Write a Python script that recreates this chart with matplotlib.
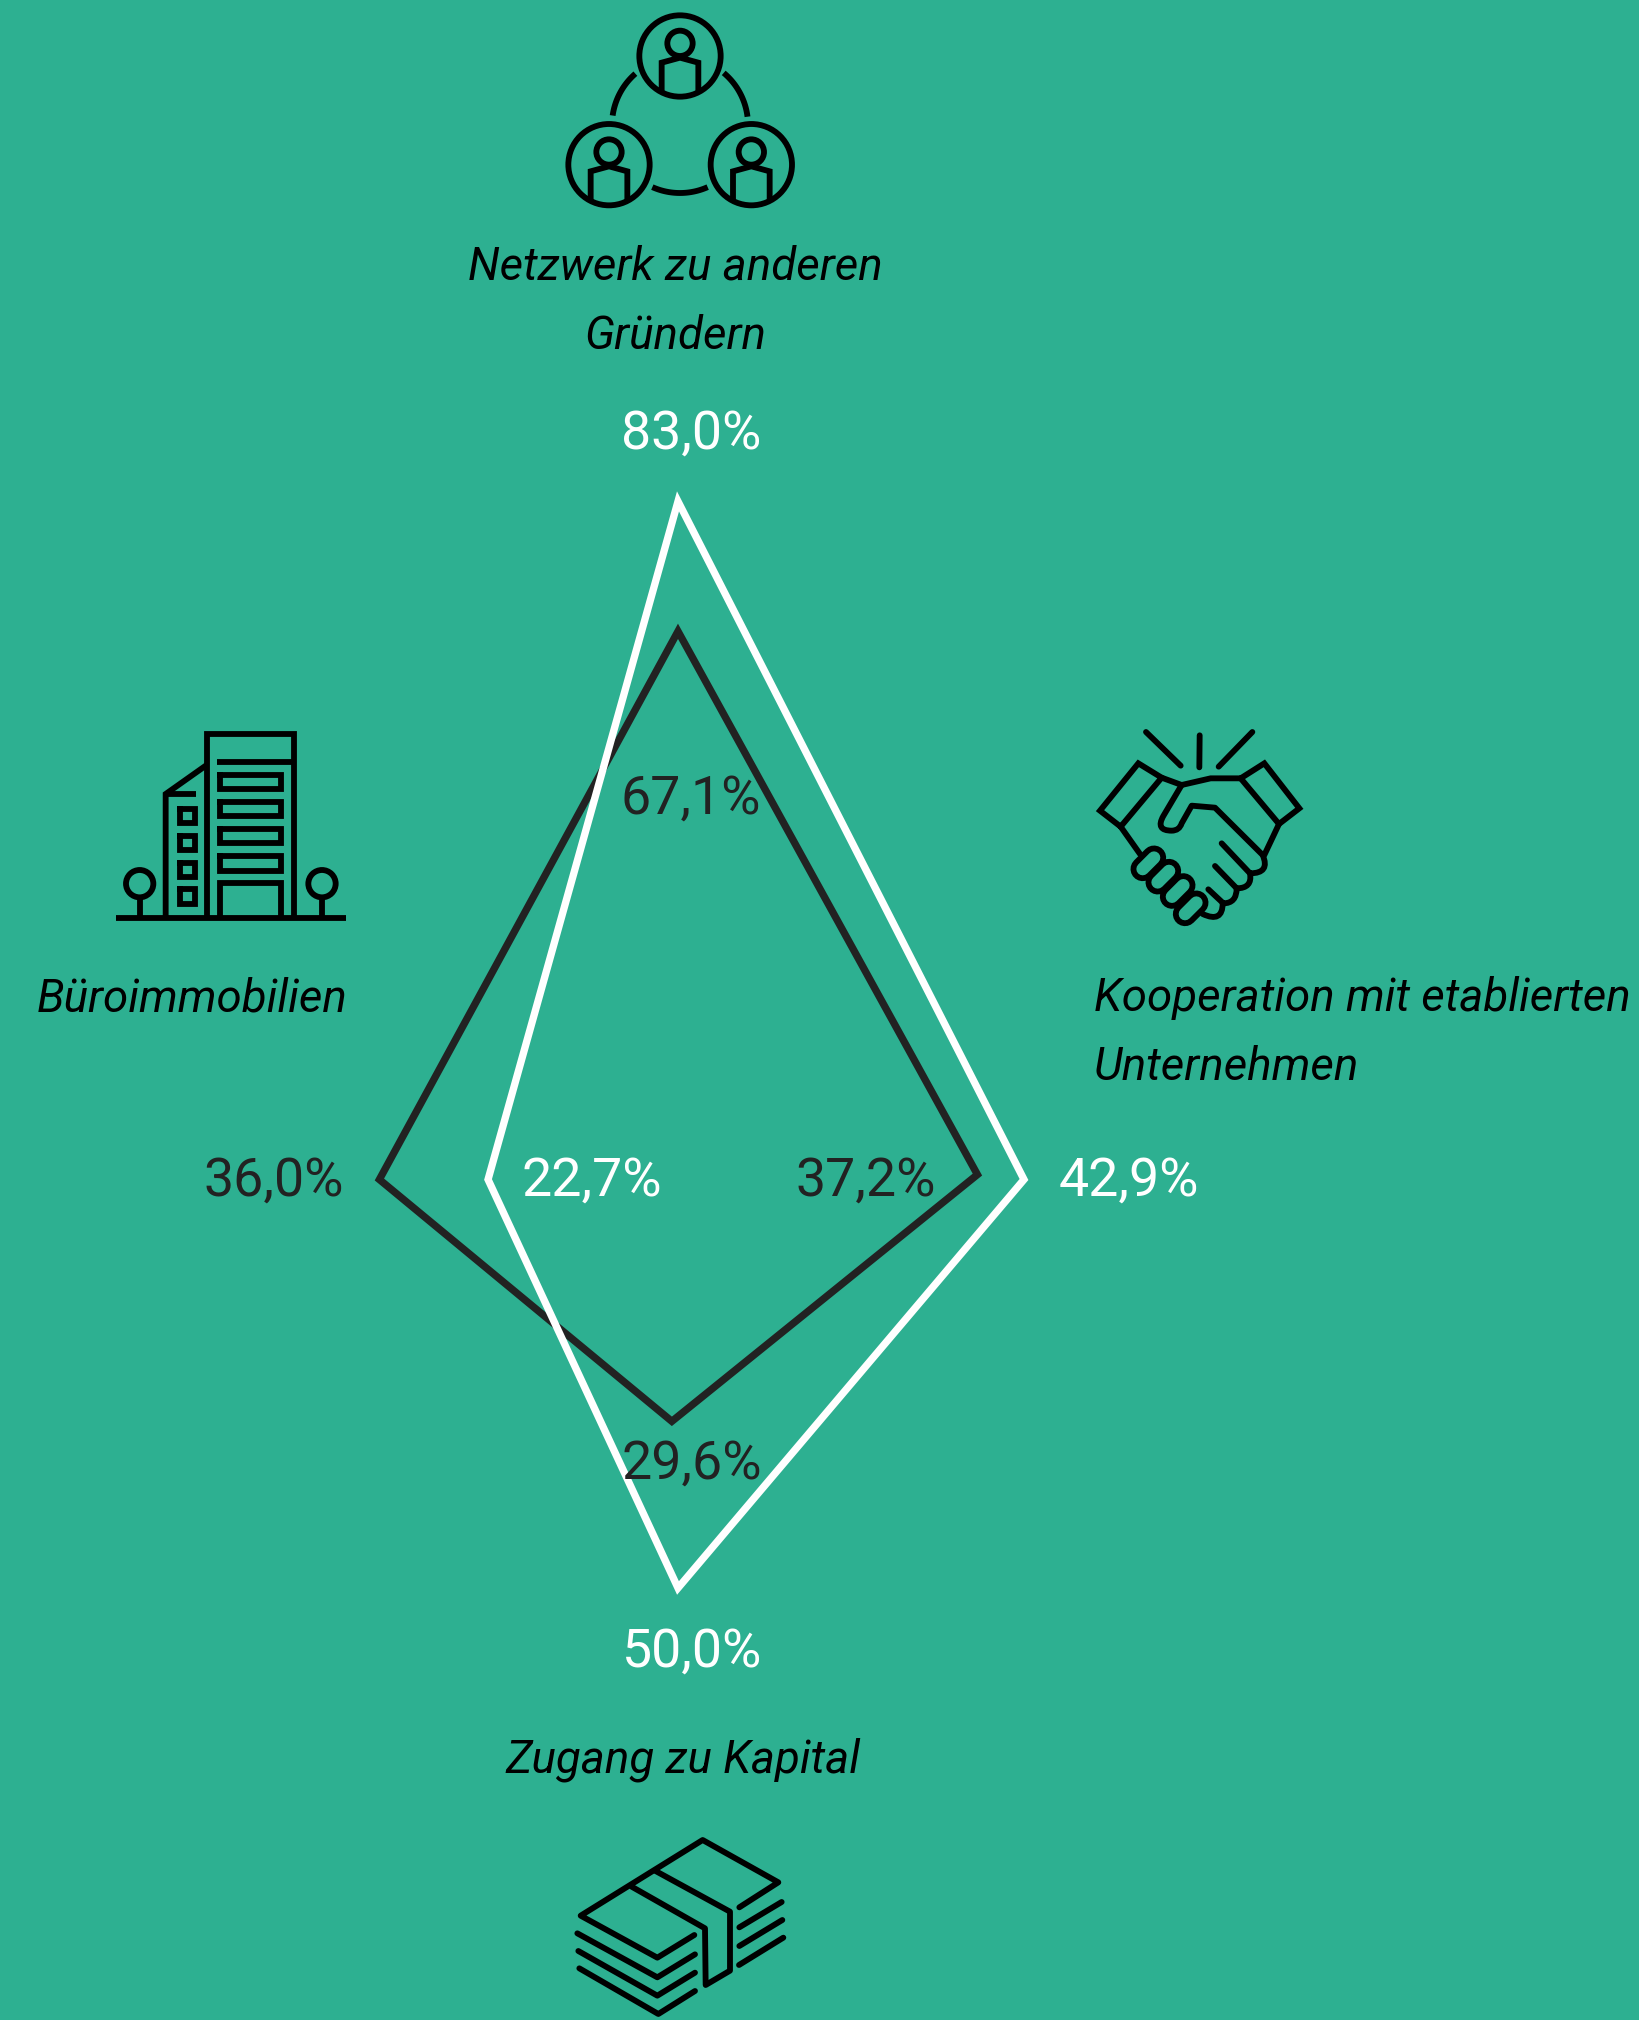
import numpy as np
import matplotlib
matplotlib.use('Agg')
import matplotlib.pyplot as plt
from matplotlib.path import Path
from matplotlib.patches import PathPatch, Circle

plt.rcParams['font.family'] = ['Roboto', 'DejaVu Sans']

# Data: spokes run top, right, bottom, left
categories = ['Netzwerk zu anderen\nGründern', 'Kooperation mit etablierten\nUnternehmen',
              'Zugang zu Kapital', 'Büroimmobilien']
white_values = [83.0, 42.9, 50.0, 22.7]
dark_values = [67.1, 37.2, 29.6, 36.0]
# the spokes are slightly off axis in the picture (in % units)
white_drift = [0.55, 0.0, 0.55, 0.0]
dark_drift = [0.55, 0.6, -0.2, 0.0]
spoke_x = np.array([0, 1, 0, -1])
spoke_y = np.array([1, 0, -1, 0])

BG = '#2DB091'
DARK = '#222222'
W, H = 1639, 2020
CX, CY, K = 673.5, 1179.5, 8.17  # chart centre in pixels, pixels per %

fig = plt.figure(figsize=(W / 100, H / 100), dpi=100, facecolor=BG)

# radar axes, in percent
ax = fig.add_axes([0, 0, 1, 1])
ax.set_xlim(-CX / K, (W - CX) / K)
ax.set_ylim((CY - H) / K, CY / K)
ax.axis('off')


def spoke_points(values, drift):
    v = np.array(values)
    d = np.array(drift)
    x = v * spoke_x + d * np.abs(spoke_y)
    y = v * spoke_y + d * np.abs(spoke_x)
    return x, y


dx, dy = spoke_points(dark_values, dark_drift)
ax.fill(dx, dy, fill=False, ec=DARK, lw=5.3, joinstyle='miter', zorder=2)
wx, wy = spoke_points(white_values, white_drift)
ax.fill(wx, wy, fill=False, ec='white', lw=5.3, joinstyle='miter', zorder=3)

# overlay in pixels for icons and text
px = fig.add_axes([0, 0, 1, 1], facecolor='none')
px.set_xlim(0, W)
px.set_ylim(H, 0)
px.axis('off')

ICON_LW = 4.2


def line(ox, oy, pts, lw=ICON_LW, cap='round', join='miter', closed=False, color='black', z=5):
    p = np.array(pts, dtype=float) / 3
    if closed:
        p = np.vstack([p, p[:1]])
    px.plot(ox + p[:, 0], oy + p[:, 1], color=color, lw=lw, solid_capstyle=cap,
            solid_joinstyle=join, zorder=z)


def ring(ox, oy, c, r, lw=ICON_LW):
    px.add_patch(Circle((ox + c[0] / 3, oy + c[1] / 3), r / 3, fill=False, ec='black', lw=lw, zorder=5))


def arc(ox, oy, c, r, a0, a1, lw=ICON_LW):
    t = np.radians(np.linspace(a0, a1, 40))
    px.plot(ox + (c[0] + r * np.cos(t)) / 3, oy + (c[1] + r * np.sin(t)) / 3,
            color='black', lw=lw, solid_capstyle='butt', zorder=5)


def curve(ox, oy, verts, codes, lw=ICON_LW):
    v = np.array(verts, dtype=float) / 3 + [ox, oy]
    px.add_patch(PathPatch(Path(v, codes), fill=False, ec='black', lw=lw, capstyle='round',
                           joinstyle='round', zorder=5))


# network icon
ox, oy = 540, 0
for c in [(420, 168), (207, 494), (634, 494)]:
    ring(ox, oy, c, 122)
    ring(ox, oy, (c[0], c[1] - 38), 38)
    line(ox, oy, [(c[0] - 55, c[1] + 106), (c[0] - 55, c[1] + 20), (c[0], c[1] + 5),
                  (c[0] + 55, c[1] + 20), (c[0] + 55, c[1] + 106)], cap='butt')
arc(ox, oy, (420, 375), 204, -131, -172)
arc(ox, oy, (420, 375), 204, -50, -7)
arc(ox, oy, (420, 375), 204, 66, 114)

# building icon
ox, oy = 100, 710
line(ox, oy, [(48, 624), (738, 624)], lw=4.2, cap='butt')
line(ox, oy, [(320, 624), (320, 72), (583, 72), (583, 624)], cap='butt')
line(ox, oy, [(352, 156), (583, 156)], cap='butt')
line(ox, oy, [(197, 624), (197, 252), (320, 165)], cap='butt')
line(ox, oy, [(197, 252), (287, 252)], cap='butt')
for cy in [318, 399, 480, 560]:
    line(ox, oy, [(240, cy - 22), (284, cy - 22), (284, cy + 22), (240, cy + 22)], closed=True, cap='projecting')
for y0 in [195, 276, 357, 439]:
    line(ox, oy, [(359, y0), (544, y0), (544, y0 + 43), (359, y0 + 43)], closed=True, cap='projecting')
line(ox, oy, [(359, 624), (359, 520), (544, 520), (544, 624)], cap='butt')
for tx in [119, 666]:
    ring(ox, oy, (tx, 521), 41)
    line(ox, oy, [(tx, 562), (tx, 624)], cap='butt')

# handshake icon
ox, oy = 1080, 710
line(ox, oy, [(198, 66), (302, 167)])
line(ox, oy, [(359, 76), (358, 172)])
line(ox, oy, [(517, 66), (416, 170)])
line(ox, oy, [(122, 350), (60, 302), (175, 160), (245, 203), (122, 350)])
line(ox, oy, [(482, 205), (553, 160), (658, 295), (597, 342), (482, 205)])
line(ox, oy, [(245, 203), (305, 225), (392, 205), (482, 205)])
line(ox, oy, [(122, 350), (180, 432)])
line(ox, oy, [(597, 342), (553, 435)])
M, L, Q = Path.MOVETO, Path.LINETO, Path.CURVE3
curve(ox, oy, [(305, 225), (250, 318), (225, 362), (275, 362), (298, 362), (305, 340), (335, 287), (405, 293),
               (548, 435), (572, 490), (510, 490), (425, 400)],
      [M, L, Q, Q, Q, Q, L, L, L, Q, Q, L])
curve(ox, oy, [(510, 490), (518, 535), (470, 535), (405, 468)], [M, Q, Q, L])
curve(ox, oy, [(470, 535), (470, 580), (430, 580), (385, 538)], [M, Q, Q, L])
curve(ox, oy, [(428, 580), (428, 640), (368, 612)], [M, Q, Q])
for c in [(205, 460), (250, 500), (293, 543), (332, 595)]:
    seg = [(c[0] - 17, c[1] + 17), (c[0] + 17, c[1] - 17)]
    line(ox, oy, seg, lw=17.5, z=6)
    line(ox, oy, seg, lw=9.1, color=BG, z=6)

# money icon
ox, oy = 560, 1820
line(ox, oy, [(538, 262), (655, 187), (428, 60), (62, 287), (292, 413), (403, 345)], join='round')
line(ox, oy, [(52, 340), (292, 472), (405, 403)], join='round')
line(ox, oy, [(55, 393), (292, 527), (405, 458)], join='round')
line(ox, oy, [(58, 445), (295, 582), (405, 513)], join='round')
line(ox, oy, [(538, 322), (665, 246)])
line(ox, oy, [(538, 378), (667, 300)])
line(ox, oy, [(537, 435), (670, 353)])
line(ox, oy, [(215, 200), (435, 325), (437, 495), (510, 452), (510, 275), (285, 152)], join='round')

# category labels
LABEL_FS = 32.9
top_lines = categories[0].split('\n')
px.text(675, 280, top_lines[0], style='italic', fontsize=LABEL_FS, ha='center', va='baseline', color='black')
px.text(675, 349, top_lines[1], style='italic', fontsize=LABEL_FS, ha='center', va='baseline', color='black')
right_lines = categories[1].split('\n')
px.text(1094, 1011, right_lines[0], style='italic', fontsize=LABEL_FS, va='baseline', color='black')
px.text(1094, 1080, right_lines[1], style='italic', fontsize=LABEL_FS, va='baseline', color='black')
px.text(505, 1773, categories[2], style='italic', fontsize=LABEL_FS, va='baseline', color='black')
px.text(37, 1011, categories[3], style='italic', fontsize=LABEL_FS, va='baseline', color='black')


def pct(v):
    return f'{v:.1f}%'.replace('.', ',')


# value labels
VAL_FS = 38.6
val_xy_white = [(621, 449), (1059, 1196), (622, 1667), (522, 1196)]
val_xy_dark = [(621, 814), (796, 1196), (621, 1479), (203, 1196)]
for v, (x, y) in zip(white_values, val_xy_white):
    px.text(x, y, pct(v), fontsize=VAL_FS, color='white', va='baseline', zorder=7)
for v, (x, y) in zip(dark_values, val_xy_dark):
    px.text(x, y, pct(v), fontsize=VAL_FS, color=DARK, va='baseline', zorder=7)

fig.savefig('out.png', dpi=100, facecolor=BG)
